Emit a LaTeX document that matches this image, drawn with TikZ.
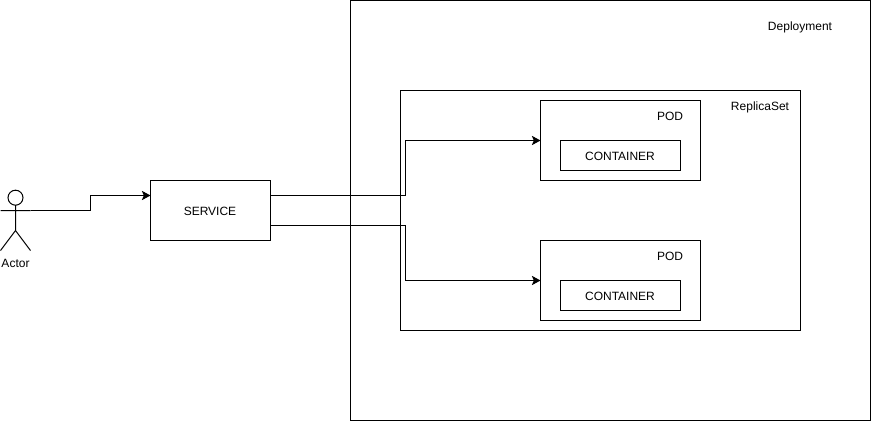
\documentclass[tikz,border=0pt]{standalone}
\usepackage{fontspec}
\setmainfont{Liberation Sans}
\usetikzlibrary{arrows.meta,calc}
\tikzset{
 px/.style={x=0.75pt,y=-0.75pt},
 boxs/.style={draw=black,line width=0.75pt,inner sep=0pt,outer sep=0pt},
 lab/.style={font=\fontsize{9}{11}\selectfont,text=black,inner sep=0pt,anchor=base},
 conn/.style={draw=black,line width=0.75pt,-{Stealth[length=6.5pt,width=7pt,inset=1.5pt]}},
 plain/.style={draw=black,line width=0.75pt}
}
\newcommand{\bx}[5]{\path[boxs] (#2,#3) rectangle (#4,#5); \coordinate (#1) at ($(#2,#3)!0.5!(#4,#5)$);}
\begin{document}
\begin{tikzpicture}[px]
\useasboundingbox (0,0) rectangle (871,421);
\fill[white] (0,0) rectangle (871,421);
\bx{dep}{350.5}{0.5}{870.5}{420.5}
\bx{rs}{400.5}{90.5}{800.5}{330.5}
\bx{poda}{540.5}{100.5}{700.5}{180.5}
\bx{conta}{560.5}{140.5}{680.5}{170.5}
\bx{podb}{540.5}{240.5}{700.5}{320.5}
\bx{contb}{560.5}{280.5}{680.5}{310.5}
\bx{svc}{150.5}{180.5}{270.5}{240.5}
\node[lab] (tdep) at (800,30) {Deployment};
\node[lab] (trs) at (760,110) {ReplicaSet};
\node[lab] (tpa) at (670,120) {POD};
\node[lab] (tpb) at (670,260) {POD};
\node[lab] (tca) at (620,160) {CONTAINER};
\node[lab] (tcb) at (620,300) {CONTAINER};
\node[lab] (tsvc) at (210,215) {SERVICE};
\node[lab] (tact) at (15.5,267) {Actor};
% actor
\coordinate (hd) at (15.5,197.7);
\draw[plain] (hd) circle [radius=7.5pt*0.75];
\coordinate (neck) at (15.5,205.2);
\coordinate (hip) at (15.5,230.5);
\coordinate (armL) at (0.5,210.5);
\coordinate (armR) at (30.5,210.5);
\coordinate (legL) at (0.5,250.5);
\coordinate (legR) at (30.5,250.5);
\draw[plain] (neck) -- (hip) (armL) -- (armR) (legL) -- (hip) -- (legR);
% connectors
\coordinate (si) at (150.5,195.5);
\coordinate (pa) at (540.5,140.5);
\coordinate (pb) at (540.5,280.5);
\coordinate (sa) at (270.5,195.5);
\coordinate (sb) at (270.5,225.5);
\draw[conn] (armR) -- (90.5,210.5) -- (90.5,195.5) -- (si);
\draw[conn] (sa) -- (405.5,195.5) -- (405.5,140.5) -- (pa);
\draw[conn] (sb) -- (405.5,225.5) -- (405.5,280.5) -- (pb);
\end{tikzpicture}
\end{document}
